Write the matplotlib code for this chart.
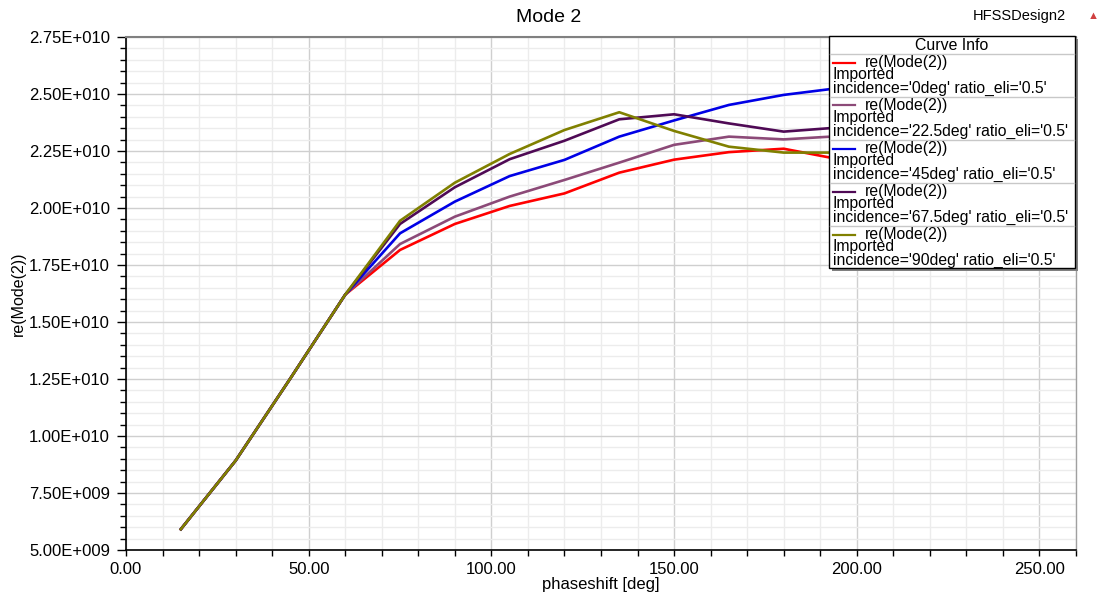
import matplotlib
matplotlib.use("Agg")
import math
import matplotlib.pyplot as plt
from matplotlib.ticker import MultipleLocator, FuncFormatter
from matplotlib.patches import Rectangle
from matplotlib.lines import Line2D

plt.rcParams['font.family'] = ['Liberation Sans', 'DejaVu Sans']

# ---------------- data ----------------
phaseshift = [15, 30, 45, 60, 75, 90, 105, 120, 135, 150, 165, 180, 195]
common = [5.91e9, 8.92e9, 1.253e10, 1.62e10]
inc_0 = common + [1.816e10, 1.930e10, 2.009e10, 2.064e10, 2.155e10, 2.212e10, 2.245e10, 2.260e10, 2.214e10]
inc_22_5 = common + [1.842e10, 1.962e10, 2.050e10, 2.123e10, 2.199e10, 2.277e10, 2.313e10, 2.301e10, 2.315e10]
inc_45 = common + [1.889e10, 2.028e10, 2.140e10, 2.211e10, 2.313e10, 2.384e10, 2.452e10, 2.496e10, 2.526e10]
inc_67_5 = common + [1.930e10, 2.091e10, 2.214e10, 2.295e10, 2.389e10, 2.411e10, 2.371e10, 2.335e10, 2.353e10]
inc_90 = common + [1.944e10, 2.111e10, 2.237e10, 2.342e10, 2.420e10, 2.338e10, 2.269e10, 2.243e10, 2.243e10]

incidences = ["0deg", "22.5deg", "45deg", "67.5deg", "90deg"]
series = [inc_0, inc_22_5, inc_45, inc_67_5, inc_90]
colors = ["#ff0000", "#8c4a78", "#0000e6", "#4f0a55", "#808000"]

title = "Mode 2"
xlabel = "phaseshift [deg]"
ylabel = "re(Mode(2))"
design = "HFSSDesign2"

# ---------------- figure ----------------
W, H = 1098, 594
fig = plt.figure(figsize=(W / 100, H / 100), dpi=100)
fig.patch.set_facecolor("white")

def fx(x):
    return x / W

def fy(y):
    return 1 - y / H

ax = fig.add_axes([fx(126), fy(550), fx(1076) - fx(126), fy(37) - fy(550)])

for s, c in zip(series, colors):
    ax.plot(phaseshift, s, color=c, lw=1.9, solid_joinstyle="round", zorder=3)

ax.set_xlim(0, 260)
ax.set_ylim(5e9, 2.75e10)
ax.xaxis.set_major_locator(MultipleLocator(50))
ax.xaxis.set_minor_locator(MultipleLocator(10))
ax.yaxis.set_major_locator(MultipleLocator(2.5e9))
ax.yaxis.set_minor_locator(MultipleLocator(5e8))

def yfmt(v, pos):
    if v == 0:
        return "0.00E+000"
    e = int(math.floor(math.log10(abs(v))))
    m = v / 10 ** e
    return f"{m:.2f}E+{e:03d}"

ax.yaxis.set_major_formatter(FuncFormatter(yfmt))
ax.xaxis.set_major_formatter(FuncFormatter(lambda v, p: f"{v:.2f}"))

ax.grid(which="major", color="#cfcfcf", lw=1.0, zorder=0)
ax.grid(which="minor", color="#ececec", lw=1.0, zorder=0)
ax.set_axisbelow(True)

ax.tick_params(which="major", direction="out", length=6.5, width=1, labelsize=12, colors="black", pad=5)
ax.tick_params(which="minor", direction="out", length=4.3, width=1)
ax.tick_params(axis="x", which="major", length=4.3, pad=4)

for sp in ["left", "bottom"]:
    ax.spines[sp].set_color("black")
    ax.spines[sp].set_linewidth(1.2)
ax.spines["top"].set_color("#808080")
ax.spines["top"].set_linewidth(1.5)
ax.spines["right"].set_color("#a0a0a0")
ax.spines["right"].set_linewidth(1.0)

ax.set_xlabel(xlabel, fontsize=12, labelpad=0)
ax.set_ylabel(ylabel, fontsize=11.5, labelpad=2)

fig.text(0.5, fy(17), title, ha="center", va="center", fontsize=14)
fig.text(fx(1066), fy(16), design, ha="right", va="center", fontsize=10.5)
fig.text(fx(1093), fy(16), "\u25b2", ha="center", va="center", fontsize=8, color="#d04040")

# ---------------- legend (Curve Info) ----------------
L, R, T, B = 829, 1075, 36, 268
fs = 11.3
fig.add_artist(Rectangle((fx(L + 3), fy(B + 3)), fx(R) - fx(L), fy(T) - fy(B),
                         transform=fig.transFigure, facecolor="#808080", edgecolor="none", zorder=9))
fig.add_artist(Rectangle((fx(L), fy(B)), fx(R) - fx(L), fy(T) - fy(B),
                         transform=fig.transFigure, facecolor="white", edgecolor="black", lw=1.0, zorder=10))
fig.text(fx(952), fy(45), "Curve Info", ha="center", va="center", fontsize=11.4, zorder=11)
seps = [54, 97, 140, 183, 226]
for i, (inc, c) in enumerate(zip(incidences, colors)):
    y0 = seps[i]
    fig.add_artist(Line2D([fx(L + 1), fx(R - 1)], [fy(y0), fy(y0)], transform=fig.transFigure,
                          color="#c8c8c8", lw=1.0, zorder=11))
    fig.add_artist(Line2D([fx(833), fx(855)], [fy(y0 + 8.5), fy(y0 + 8.5)], transform=fig.transFigure,
                          color=c, lw=1.6, zorder=11))
    fig.text(fx(865), fy(y0 + 8.5), "re(Mode(2))", ha="left", va="center", fontsize=fs, zorder=11)
    fig.text(fx(833), fy(y0 + 20.5), "Imported", ha="left", va="center", fontsize=fs, zorder=11)
    fig.text(fx(833), fy(y0 + 34), f"incidence='{inc}' ratio_eli='0.5'", ha="left", va="center",
             fontsize=fs, zorder=11)

fig.savefig("out.png", dpi=100)
